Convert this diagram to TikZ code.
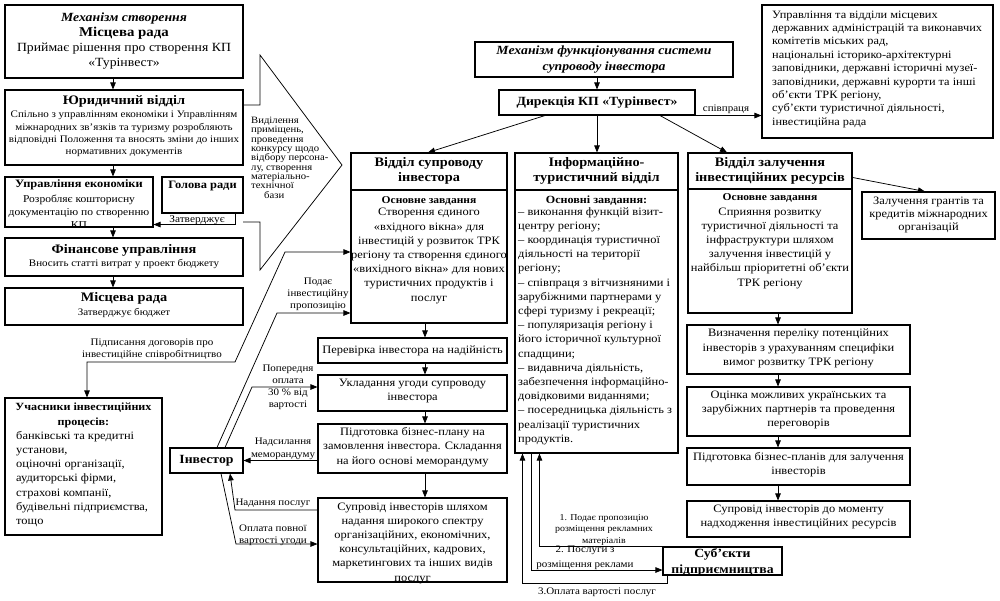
\documentclass[tikz,border=0pt]{standalone}
\usepackage{fontspec}
\setmainfont{Liberation Serif}[FakeStretch=1.1]
\usetikzlibrary{arrows.meta}
\begin{document}
\begin{tikzpicture}[x=1pt,y=-1pt,
  box/.style={draw, line width=1.05pt, inner sep=0pt},
  txt/.style={inner sep=0pt, align=center},
  ln/.style={line width=0.75pt},
  arr/.style={line width=0.75pt, -{Triangle[length=7pt,width=5.5pt]}},
  darr/.style={line width=0.75pt, {Triangle[length=7pt,width=5.5pt]}-{Triangle[length=7pt,width=5.5pt]}},
  hfont/.style={font=\fontsize{13}{15}\selectfont\bfseries},
  bfont/.style={font=\fontsize{10}{12.3}\selectfont},
  mfont/.style={font=\fontsize{11.3}{14.2}\selectfont},
  lfont/.style={font=\fontsize{10}{12}\selectfont}
]
\useasboundingbox (0,0) rectangle (1000,600);
\fill[white] (0,0) rectangle (1000,600);

% ---------- left column ----------
\node[box, minimum width=238pt, minimum height=73pt] (b1) at (124,41.5) {};
\node[txt, font=\fontsize{12.5}{15.3}\selectfont] (b1t) at (124,41) {\textbf{\textit{Механізм створення}}\\{\fontsize{13.5}{15.3}\selectfont\bfseries Місцева рада}\\Приймає рішення про створення КП\\«Турінвест»};

\node[box, minimum width=238pt, minimum height=75pt] (b2) at (124,127.5) {};
\node[txt, hfont] (b2h) at (124,101) {Юридичний відділ};
\node[txt, bfont] (b2t) at (124,134) {Спільно з управлінням економіки і Управлінням\\міжнародних зв’язків та туризму розробляють\\відповідні Положення та вносять зміни до інших\\нормативних документів};

\node[box, minimum width=148pt, minimum height=50pt] (b3) at (79,202) {};
\node[txt, font=\fontsize{11.3}{13}\selectfont\bfseries] (b3h) at (79,185) {Управління економіки};
\node[txt, font=\fontsize{10.5}{13}\selectfont] (b3t) at (79,212) {Розробляє кошторисну\\документацію по створенню\\КП};

\node[box, minimum width=81pt, minimum height=36pt] (b4) at (202.5,195) {};
\node[txt, font=\fontsize{11.3}{12}\selectfont\bfseries] (b4t) at (202.5,186) {Голова ради};
\node[txt, font=\fontsize{10.3}{11}\selectfont] (zat) at (197,220) {Затверджує};

\node[box, minimum width=238pt, minimum height=38pt] (b5) at (124,257) {};
\node[txt, hfont] (b5h) at (124,250) {Фінансове управління};
\node[txt, bfont] (b5t) at (124,264) {Вносить статті витрат у проект бюджету};

\node[box, minimum width=238pt, minimum height=37pt] (b6) at (124,306.5) {};
\node[txt, hfont] (b6h) at (124,298) {Місцева рада};
\node[txt, bfont] (b6t) at (124,313) {Затверджує бюджет};

\draw[arr] ([xshift=-11pt]b1.south) -- ([xshift=-11pt]b2.north);
\draw[arr] ([xshift=-11pt]b2.south) -- ([xshift=34pt]b3.north);
\draw[arr] ([xshift=34pt]b3.south) -- ([xshift=-11pt]b5.north);
\draw[arr] ([xshift=-11pt]b5.south) -- ([xshift=-11pt]b6.north);
\draw[arr] ([xshift=32.5pt]b4.south) |- ([yshift=3pt]b3.south east);

% callout
\draw[ln] (243,105) -- (260,105) -- (260,55) -- (342,165) -- (260,270) -- (260,222) -- (243,222);
\node[txt, align=left, anchor=north west, font=\fontsize{9.7}{9.3}\selectfont] (cal) at (251,117) {Виділення\\приміщень,\\проведення\\конкурсу щодо\\відбору персона-\\лу, створення\\матеріально-\\технічної\\\hspace*{13pt}бази};

% ---------- top middle ----------
\node[box, minimum width=258pt, minimum height=35pt] (m1) at (604,59.5) {};
\node[txt, font=\fontsize{12.5}{16}\selectfont\bfseries\itshape] (m1t) at (604,60) {Механізм функціонування системи\\супроводу інвестора};
\node[box, minimum width=196pt, minimum height=25pt] (m2) at (597,102.5) {};
\node[txt, font=\fontsize{12.5}{15}\selectfont\bfseries] (m2t) at (597,102.5) {Дирекція КП «Турінвест»};
\draw[arr] (m1.south -| m2.north) -- (m2.north);

\node[box, minimum width=231pt, minimum height=133pt] (tr) at (877.5,71.5) {};
\node[txt, align=left, anchor=north west, font=\fontsize{11.2}{13.4}\selectfont] (trt) at (772,10.5) {Управління та відділи місцевих\\державних адміністрацій та виконавчих\\комітетів міських рад,\\національні історико-архітектурні\\заповідники, державні історичні музеї-\\заповідники, державні курорти та інші\\об’єкти ТРК регіону,\\суб’єкти туристичної діяльності,\\інвестиційна рада};
\draw[arr] (m2.south east) -- (m2.south east -| tr.west);
\node[txt, font=\fontsize{10}{10}\selectfont] (spl) at (726,109) {співпраця};

% ---------- departments ----------
\node[box, minimum width=156pt, minimum height=170pt] (d1) at (429,238) {};
\draw[line width=1.05pt] (d1.west |- 0,190) -- (d1.east |- 0,190);
\node[txt, hfont] (d1h) at (429,170.5) {Відділ супроводу\\інвестора};
\node[txt, font=\fontsize{10.5}{12}\selectfont\bfseries] (d1s) at (429,201) {Основне завдання};
\node[txt, mfont] (d1t) at (429,256) {Створення єдиного\\«вхідного вікна» для\\інвестицій у розвиток ТРК\\регіону та створення єдиного\\«вихідного вікна» для нових\\туристичних продуктів і\\послуг};

\node[box, minimum width=163pt, minimum height=300pt] (d2) at (596.5,303) {};
\draw[line width=1.05pt] (d2.west |- 0,190) -- (d2.east |- 0,190);
\node[txt, hfont] (d2h) at (596.5,170.5) {Інформаційно-\\туристичний відділ};
\node[txt, font=\fontsize{11}{12}\selectfont\bfseries] (d2s) at (596.5,201) {Основні завдання:};
\node[txt, align=left, anchor=north west, mfont] (d2t) at (518,207) {– виконання функцій візит-\\центру регіону;\\– координація туристичної\\діяльності на території\\регіону;\\– співпраця з вітчизняними і\\зарубіжними партнерами у\\сфері туризму і рекреації;\\– популяризація регіону і\\його історичної культурної\\спадщини;\\– видавнича діяльність,\\забезпечення інформаційно-\\довідковими виданнями;\\– посередницька діяльність з\\реалізації туристичних\\продуктів.};

\node[box, minimum width=164pt, minimum height=160pt] (d3) at (770,233) {};
\draw[line width=1.05pt] (d3.west |- 0,189) -- (d3.east |- 0,189);
\node[txt, hfont] (d3h) at (770,170.5) {Відділ залучення\\інвестиційних ресурсів};
\node[txt, font=\fontsize{10.5}{12}\selectfont\bfseries] (d3s) at (770,198) {Основне завдання};
\node[txt, mfont] (d3t) at (770,248) {Сприяння розвитку\\туристичної діяльності та\\інфраструктури шляхом\\залучення інвестицій у\\найбільш пріоритетні об’єкти\\ТРК регіону};

\draw[arr] ([xshift=-52pt]m2.south) -- ([xshift=-1pt]d1.north);
\draw[arr] (m2.south) -- (m2.south |- d2.north);
\draw[arr] ([xshift=63pt]m2.south) -- ([xshift=-43pt]d3.north);

\node[box, minimum width=133pt, minimum height=47pt] (g) at (928.5,215.5) {};
\node[txt, font=\fontsize{11.3}{13.2}\selectfont] (gt) at (928.5,215) {Залучення грантів та\\кредитів міжнародних\\організацій};
\draw[arr] ([yshift=-25pt]d3.north east) -- ([xshift=-3.5pt]g.north);

% ---------- investor chain ----------
\node[box, minimum width=189pt, minimum height=25pt] (c1) at (412.5,350.5) {};
\node[txt, mfont] (c1t) at (412.5,350.5) {Перевірка інвестора на надійність};
\node[box, minimum width=189pt, minimum height=36pt] (c2) at (412.5,393) {};
\node[txt, mfont] (c2t) at (412.5,391) {Укладання угоди супроводу\\інвестора};
\node[box, minimum width=189pt, minimum height=49pt] (c3) at (412.5,448.5) {};
\node[txt, mfont] (c3t) at (412.5,447) {Підготовка бізнес-плану на\\замовлення інвестора. Складання\\на його основі меморандуму};
\node[box, minimum width=189pt, minimum height=84pt] (c4) at (412.5,540) {};
\node[txt, mfont] (c4t) at (412.5,543) {Супровід інвесторів шляхом\\надання широкого спектру\\організаційних, економічних,\\консультаційних, кадрових,\\маркетингових та інших видів\\послуг};

\draw[arr] ([xshift=-4pt]d1.south) -- ([xshift=12.5pt]c1.north);
\draw[arr] ([xshift=12.5pt]c1.south) -- ([xshift=12.5pt]c2.north);
\draw[arr] ([xshift=12.5pt]c2.south) -- ([xshift=12.5pt]c3.north);
\draw[arr] ([xshift=12.5pt]c3.south) -- ([xshift=12.5pt]c4.north);

% ---------- resources chain ----------
\node[box, minimum width=223pt, minimum height=49pt] (r1) at (798.5,349.5) {};
\node[txt, mfont] (r1t) at (798.5,348.5) {Визначення переліку потенційних\\інвесторів з урахуванням специфіки\\вимог розвитку ТРК регіону};
\node[box, minimum width=223pt, minimum height=49pt] (r2) at (798.5,411.5) {};
\node[txt, mfont] (r2t) at (798.5,410) {Оцінка можливих українських та\\зарубіжних партнерів та проведення\\переговорів};
\node[box, minimum width=223pt, minimum height=37pt] (r3) at (798.5,466.5) {};
\node[txt, mfont] (r3t) at (798.5,465) {Підготовка бізнес-планів для залучення\\інвесторів};
\node[box, minimum width=223pt, minimum height=36pt] (r4) at (798.5,519) {};
\node[txt, mfont] (r4t) at (798.5,517) {Супровід інвесторів до моменту\\надходження інвестиційних ресурсів};

\draw[arr] ([xshift=8pt]d3.south) -- ([xshift=-20.5pt]r1.north);
\draw[arr] ([xshift=-20.5pt]r1.south) -- ([xshift=-20.5pt]r2.north);
\draw[arr] ([xshift=-20.5pt]r2.south) -- ([xshift=-20.5pt]r3.north);
\draw[arr] ([xshift=-20.5pt]r3.south) -- ([xshift=-20.5pt]r4.north);

% ---------- investor & participants ----------
\node[box, minimum width=73pt, minimum height=25pt] (inv) at (206.5,460.5) {};
\node[txt, font=\fontsize{12.5}{15}\selectfont\bfseries] (invt) at (206.5,460.5) {Інвестор};

\node[box, minimum width=157pt, minimum height=137pt] (up) at (83.5,466.5) {};
\node[txt, font=\fontsize{11}{15}\selectfont\bfseries] (uph) at (83.5,415.5) {Учасники інвестиційних\\процесів:};
\node[txt, align=left, anchor=north west, mfont] (upt) at (16,431) {банківські та кредитні\\установи,\\оціночні організації,\\аудиторські фірми,\\страхові компанії,\\будівельні підприємства,\\тощо};

\coordinate (p1) at (277,313);
\coordinate (p2) at (252,387);
\coordinate (p3) at (235,510);
\coordinate (p4) at (236,544);
\coordinate (p5) at (285,252);
\coordinate (p6) at (235,362);
\coordinate (p7) at ([xshift=3.5pt]up.north);

\draw[arr] ([xshift=10.5pt]inv.north) -- (p1) -- (p1 -| d1.west);
\node[txt, lfont] (l1) at (318,294.5) {Подає\\інвестиційну\\пропозицію};
\draw[arr] ([xshift=18.5pt]inv.north) -- (p2) -- (p2 -| c2.west);
\node[txt, lfont] (l2) at (288,387) {Попередня\\оплата\\30 \% від\\вартості};
\draw[arr] (c3.west |- inv.east) -- (inv.east);
\node[txt, font=\fontsize{10}{13}\selectfont] (l3) at (283,448.5) {Надсилання\\меморандуму};
\draw[arr] (p3 -| c4.west) -- (p3) -- ([xshift=23.5pt]inv.south);
\node[txt, lfont] (l4) at (273,503) {Надання послуг};
\draw[arr] ([xshift=14.5pt]inv.south) -- (p4) -- (p4 -| c4.west);
\node[txt, lfont] (l5) at (273,535) {Оплата повної\\вартості угоди};
\draw[darr] (p5 -| d1.west) -- (p5) -- (p6) -- (p6 -| p7) -- (p7);
\node[txt, lfont] (l6) at (152,349) {Підписання договорів про\\інвестиційне співробітництво};

% ---------- entrepreneurs ----------
\node[box, minimum width=119pt, minimum height=28pt] (sub) at (722.5,561) {};
\node[txt, font=\fontsize{12.5}{16}\selectfont\bfseries] (subt) at (722.5,562) {Суб’єкти\\підприємництва};

\coordinate (q1) at ([xshift=25pt]d2.south west);
\coordinate (q2) at ([xshift=17pt]d2.south west);
\coordinate (q3) at ([xshift=8pt]d2.south west);
\draw[arr] (sub.north west) -| (q1);
\node[txt, font=\fontsize{9}{11.5}\selectfont] (l7) at (604,529.5) {1. Подає пропозицію\\розміщення рекламних\\матеріалів};
\draw[arr] (q2) |- ([yshift=-9pt]sub.west);
\node[txt, font=\fontsize{10}{14.5}\selectfont] (l8) at (585,557.5) {2. Послуги з\\розміщення реклами};
\draw[arr] ([xshift=5pt]sub.south west) -- ++(0,8) -| (q3);
\node[txt, font=\fontsize{10}{12}\selectfont] (l9) at (597,592.5) {3.Оплата вартості послуг};
\end{tikzpicture}
\end{document}
